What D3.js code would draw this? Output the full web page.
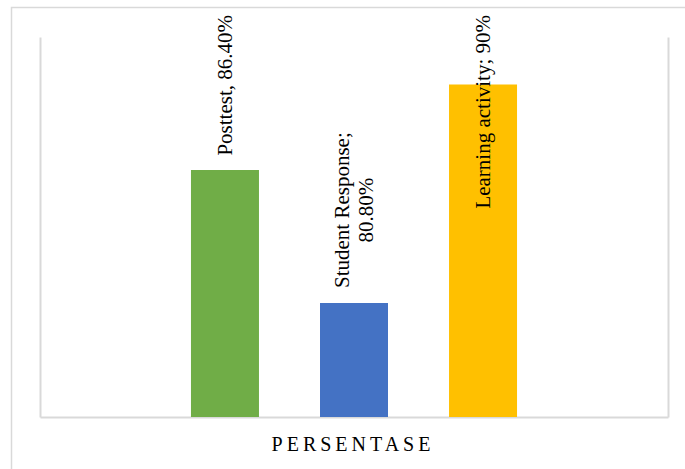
<!DOCTYPE html>
<html>
<head>
<meta charset="utf-8">
<script src="https://cdn.jsdelivr.net/npm/d3@7"></script>
<style>
  html, body { margin: 0; padding: 0; background: #fff; }
  svg { display: block; }
</style>
</head>
<body>
<div id="chart"></div>
<script>
// Bar chart - learning outcome percentages

const categories = ['Posttest', 'Student Response', 'Learning activity'];
const values = [86.4, 80.8, 90];
const labelLines = [['Posttest, 86.40%'], ['Student Response;', '80.80%'], ['Learning activity; 90%']];
const colors = ['#70ad47', '#4472c4', '#ffc000'];
const axisTitle = 'PERSENTASE';
const yDomain = [76, 92];

const width = 685;
const height = 469;
const margin = { top: 37, right: 17, bottom: 52, left: 40 };

const svg = d3.select('#chart')
    .append('svg')
    .attr('width', width)
    .attr('height', height);

// Outer chart frame (cropped at right and bottom)
svg.append('rect')
    .attr('x', 11.5)
    .attr('y', 7.5)
    .attr('width', width + 20)
    .attr('height', height + 20)
    .attr('fill', 'none')
    .attr('stroke', '#d9d9d9')
    .attr('stroke-width', 1.5);

const x = d3.scaleBand()
    .domain(categories)
    .range([margin.left, width - margin.right])
    .paddingInner(0.473)
    .paddingOuter(1.17);

const y = d3.scaleLinear()
    .domain(yDomain)
    .range([height - margin.bottom, margin.top]);

// Plot area lines (no ticks)
const leftAxis = svg.append('g')
    .attr('transform', `translate(${margin.left},0)`)
    .call(d3.axisLeft(y).tickValues([]).tickSizeOuter(0));
const rightAxis = svg.append('g')
    .attr('transform', `translate(${width - margin.right},0)`)
    .call(d3.axisRight(y).tickValues([]).tickSizeOuter(0));
const bottomAxis = svg.append('g')
    .attr('transform', `translate(0,${height - margin.bottom})`)
    .call(d3.axisBottom(x).tickValues([]).tickSizeOuter(0));

[leftAxis, rightAxis, bottomAxis].forEach(a => {
    a.select('.domain').attr('stroke', '#d9d9d9').attr('stroke-width', 2);
});

// Bars
svg.append('g')
    .selectAll('rect')
    .data(values)
    .enter()
    .append('rect')
    .attr('x', (d, i) => x(categories[i]))
    .attr('y', d => y(d))
    .attr('width', x.bandwidth())
    .attr('height', d => y(yDomain[0]) - y(d))
    .attr('fill', (d, i) => colors[i]);

// Data labels, rotated, placed above bars (clamped at top)
const fontSize = 21;
const lineGap = 24;
const labels = svg.append('g')
    .style('font-family', '"Liberation Serif", "Times New Roman", serif')
    .style('font-size', fontSize + 'px')
    .style('fill', '#000');

values.forEach((v, i) => {
    const cx = x(categories[i]) + x.bandwidth() / 2;
    const lines = labelLines[i];
    const g = labels.append('g');
    const t = g.append('text').attr('text-anchor', 'middle');
    lines.forEach((line, j) => {
        t.append('tspan')
            .attr('x', 0)
            .attr('y', (j - (lines.length - 1) / 2) * lineGap + fontSize * 0.35)
            .text(line);
    });
    let len = 0;
    t.selectAll('tspan').each(function() {
        len = Math.max(len, this.getComputedTextLength());
    });
    const cy = Math.max(y(v) - 15 - len / 2, 15 + len / 2);
    g.attr('transform', `translate(${cx},${cy}) rotate(-90)`);
});

// Axis title
svg.append('text')
    .attr('x', 353)
    .attr('y', 451)
    .attr('text-anchor', 'middle')
    .style('font-family', '"Liberation Serif", "Times New Roman", serif')
    .style('font-size', '20px')
    .style('letter-spacing', '4px')
    .style('fill', '#000')
    .text(axisTitle);
</script>
</body>
</html>
